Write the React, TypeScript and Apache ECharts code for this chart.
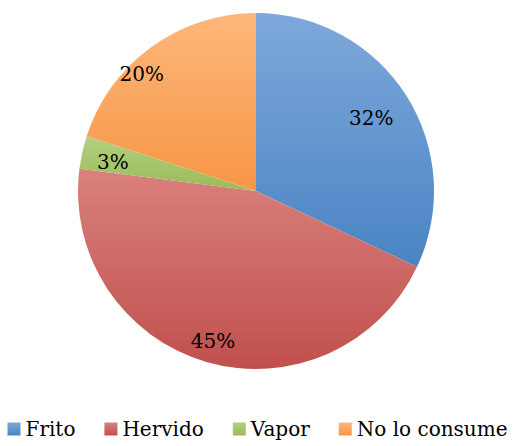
import React, { useEffect, useRef } from "react";
import * as echarts from "echarts";

const categories = ["Frito", "Hervido", "Vapor", "No lo consume"];
const values = [32, 45, 3, 20];
const labels = ["32%", "45%", "3%", "20%"];
const topColors = ["#7ea8da", "#d9817d", "#b3cf80", "#fdb77a"];
const bottomColors = ["#4a84c4", "#c0504d", "#9bbb59", "#f79646"];
// label nudges (dx, dy) in px from the ring mid-radius
const labelShift = [
  [0, 0],
  [-5, 19],
  [-10, 1],
  [-34, -7],
];

function grad(i: number) {
  return new echarts.graphic.LinearGradient(0, 0, 0, 1, [
    { offset: 0, color: topColors[i] },
    { offset: 1, color: bottomColors[i] },
  ]);
}

export default function App() {
  const ref = useRef<HTMLDivElement>(null);
  useEffect(() => {
    if (!ref.current) return;
    const chart = echarts.init(ref.current, undefined, { renderer: "svg" });
    const font = "DejaVu Serif";
    chart.setOption({
      animation: false,
      backgroundColor: "#ffffff",
      legend: {
        bottom: 2,
        left: "center",
        itemWidth: 13,
        itemHeight: 13,
        itemGap: 29,
        icon: "rect",
        textStyle: { fontFamily: font, fontSize: 20, color: "#000" },
        data: categories.map((c, i) => ({ name: c, itemStyle: { color: grad(i) } })),
      },
      series: [
        {
          type: "pie",
          center: [256, 191],
          radius: 178,
          startAngle: 90,
          clockwise: true,
          label: { show: false },
          labelLine: { show: false },
          emphasis: { disabled: true },
          data: categories.map((c, i) => ({
            name: c,
            value: values[i],
            itemStyle: { color: grad(i) },
          })),
        },
        {
          type: "pie",
          center: [256, 191],
          radius: [89, 178],
          startAngle: 90,
          clockwise: true,
          silent: true,
          legendHoverLink: false,
          emphasis: { disabled: true },
          itemStyle: { color: "rgba(0,0,0,0)" },
          labelLine: { show: false },
          data: categories.map((c, i) => {
            const [dx, dy] = labelShift[i];
            return {
              name: c + " ",
              value: values[i],
              label: {
                show: true,
                position: "inside",
                formatter: labels[i],
                fontFamily: font,
                fontSize: 20,
                color: "#000",
                offset: [dx, dy],
              },
            };
          }),
        },
      ],
    });
    return () => chart.dispose();
  }, []);
  return <div ref={ref} style={{ width: 515, height: 446, position: "absolute", left: 0, top: 0 }} />;
}
